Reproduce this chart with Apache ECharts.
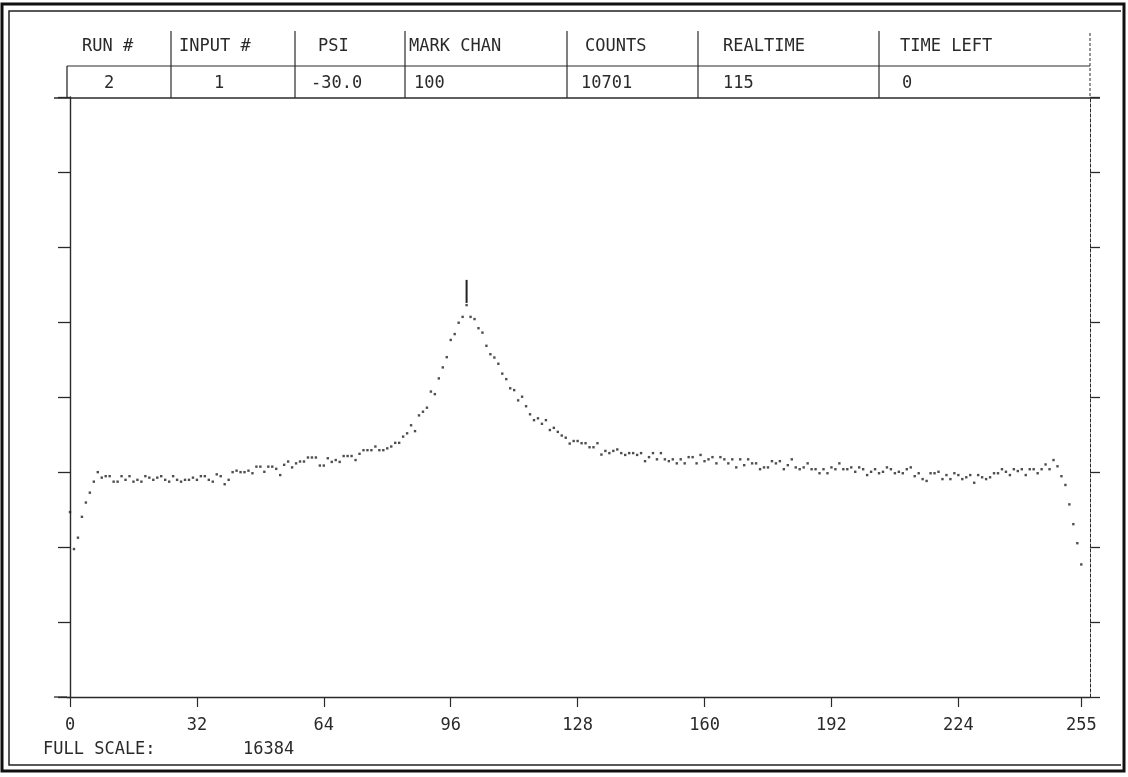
<!DOCTYPE html>
<html>
<head>
<meta charset="utf-8">
<script src="https://cdn.jsdelivr.net/npm/echarts@6/dist/echarts.min.js"></script>
<style>
html,body{margin:0;padding:0;background:#fff;}
#chart{width:1128px;height:777px;}
</style>
</head>
<body>
<div id="chart"></div>
<script>
// ---- data ----
const FULL_SCALE = 16384;
const MARK_CHAN = 100;
const MARK_TOP = 11390;
const xTickValues = [0, 32, 64, 96, 128, 160, 192, 224, 255];
const headerLabels = ['RUN #', 'INPUT #', 'PSI', 'MARK CHAN', 'COUNTS', 'REALTIME', 'TIME LEFT'];
const headerValues = ['2', '1', '-30.0', '100', '10701', '115', '0'];
const counts = [
  5050,4040,4350,4920,5310,5580,5880,6140,5990,6030,
  6030,5880,5880,6030,5930,6030,5880,5930,5880,6030,
  5990,5930,5990,6030,5930,5880,6030,5930,5880,5930,
  5930,5990,5930,6030,6030,5930,5880,6080,6030,5810,
  5930,6140,6180,6140,6140,6180,6110,6290,6290,6150,
  6290,6290,6230,6060,6340,6430,6270,6380,6430,6430,
  6540,6540,6540,6320,6320,6520,6420,6470,6420,6580,
  6580,6580,6470,6640,6740,6740,6740,6840,6740,6740,
  6790,6840,6940,6940,7110,7200,7420,7260,7690,7790,
  7900,8340,8270,8700,9000,9280,9750,9910,10220,10380,
  10701,10380,10320,10070,9950,9590,9360,9270,9100,8830,
  8680,8430,8380,8100,8200,7940,7720,7560,7610,7460,
  7560,7290,7350,7240,7140,7080,6920,6990,6990,6930,
  6930,6820,6820,6930,6620,6720,6660,6720,6760,6660,
  6610,6660,6660,6610,6660,6440,6550,6660,6490,6660,
  6490,6440,6490,6380,6490,6380,6550,6550,6380,6610,
  6440,6490,6550,6380,6550,6490,6380,6490,6270,6490,
  6330,6490,6380,6380,6220,6270,6270,6440,6380,6440,
  6220,6330,6490,6270,6220,6270,6380,6220,6220,6110,
  6220,6110,6270,6220,6380,6220,6220,6270,6150,6270,
  6220,6060,6150,6220,6110,6150,6270,6220,6110,6150,
  6110,6220,6270,6030,6110,5950,5900,6110,6110,6150,
  5950,6060,5950,6110,6060,5950,6000,6060,5850,6060,
  6000,5950,6000,6110,6110,6220,6150,6060,6220,6170,
  6220,6060,6220,6220,6110,6220,6350,6220,6470,6300,
  6030,5790,5260,4720,4200,3620
];

// ---- layout / style ----
const FONT = '17px "DejaVu Sans Mono", "Liberation Mono", monospace';
const INK = '#2a2a2a';
const GL = 67, GR = 1090, GT = 97, GB = 697;
const headerX = [82, 179, 318, 409, 585, 723, 900];
const valueX = [104, 214, 311, 414, 581, 723, 902];
const colSep = [171, 295, 405, 567, 698, 879];

const graphics = [];
function line(x1, y1, x2, y2, w, dash) {
  graphics.push({type: 'line', silent: true, shape: {x1, y1, x2, y2},
    style: {stroke: INK, lineWidth: w || 1.2, lineDash: dash || null}});
}
function text(t, x, y) {
  graphics.push({type: 'text', silent: true,
    style: {text: t, x, y, font: FONT, fill: INK, verticalAlign: 'middle', align: 'left'}});
}
// outer frame
graphics.push({type: 'rect', silent: true, shape: {x: 2, y: 4, width: 1122, height: 767},
  style: {fill: null, stroke: '#111', lineWidth: 3}});
graphics.push({type: 'polyline', silent: true,
  shape: {points: [[1121, 11], [9, 11], [9, 765], [1121, 765]]},
  style: {fill: null, stroke: '#222', lineWidth: 1.5}});
// table
line(GL, 66, GR, 66, 1.2);
line(54, GT + 1, 1100, GT + 1, 1.3);
colSep.forEach(x => line(x, 31, x, GT + 1, 1.2));
line(GL, 66, GL, GT, 1.3);
line(GR, 33, GR, GT, 1, [3, 2]);
line(54, GB, GL, GB, 1.3);
headerLabels.forEach((t, i) => text(t, headerX[i], 47));
headerValues.forEach((t, i) => text(t, valueX[i], 84));
text('FULL SCALE:', 43, 750);
text(String(FULL_SCALE), 243, 750);

const chart = echarts.init(document.getElementById('chart'), null, {renderer: 'canvas'});
chart.setOption({
  animation: false,
  backgroundColor: '#fff',
  grid: {left: GL, right: 1128 - GR, top: GT, bottom: 777 - GB, containLabel: false},
  xAxis: {
    type: 'value', min: -0.76, max: 257.2,
    splitLine: {show: false},
    axisLine: {show: true, onZero: false, lineStyle: {color: INK, width: 1.3}},
    axisTick: {show: true, inside: false, length: 10, customValues: xTickValues, lineStyle: {color: INK, width: 1.2}},
    axisLabel: {show: true, customValues: xTickValues, margin: 20, fontFamily: '"DejaVu Sans Mono", monospace',
      fontSize: 17, color: INK}
  },
  yAxis: [
    {type: 'value', min: 0, max: FULL_SCALE, interval: FULL_SCALE / 8, position: 'left',
      splitLine: {show: false},
      axisLine: {show: true, lineStyle: {color: INK, width: 1.4}},
      axisTick: {show: true, inside: false, length: 12, lineStyle: {color: INK, width: 1.3}},
      axisLabel: {show: false}},
    {type: 'value', min: 0, max: FULL_SCALE, interval: FULL_SCALE / 8, position: 'right',
      splitLine: {show: false},
      axisLine: {show: true, lineStyle: {color: INK, width: 1, type: [3, 2]}},
      axisTick: {show: true, inside: false, length: 10, lineStyle: {color: INK, width: 1.3}},
      axisLabel: {show: false}}
  ],
  series: [
    {type: 'scatter', symbol: 'rect', symbolSize: 2.4, silent: true,
      itemStyle: {color: '#222'},
      data: counts.map((v, i) => [i, v])},
    {type: 'line', silent: true, symbol: 'none',
      lineStyle: {color: '#222', width: 2},
      data: [[MARK_CHAN, MARK_TOP], [MARK_CHAN, counts[MARK_CHAN] + 60]]}
  ],
  graphic: graphics
});
</script>
</body>
</html>
